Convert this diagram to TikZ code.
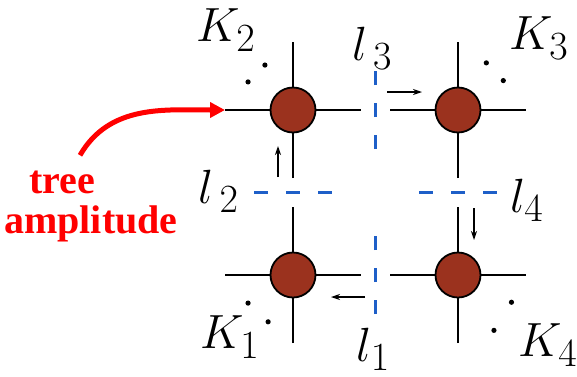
\documentclass[tikz,border=0pt]{standalone}
\usepackage{amsmath, amssymb}
\usepackage{fontspec}
\newfontfamily\annofont{Liberation Serif}
\usepackage{tikz}
\usetikzlibrary{positioning,calc,arrows.meta}
\definecolor{blobred}{RGB}{155,50,30}
\definecolor{cutblue}{RGB}{30,95,200}
\tikzset{
  leg/.style={line width=2pt, draw=black},
  blob/.style={circle, draw=black, line width=1.8pt, fill=blobred,
    minimum size=45pt, inner sep=0pt},
  cutline/.style={line width=2.5pt, draw=cutblue, dash pattern=on 14pt off 18pt},
  flow/.style={line width=1.2pt, draw=black, -{Stealth[length=9pt,width=6pt]}},
  pointer/.style={line width=5pt, draw=red, -{Triangle[length=15pt,width=15pt]}},
  lbl/.style={font=\fontsize{24.88}{26}\selectfont, scale=1.93, inner sep=0pt},
  anno/.style={font=\annofont\bfseries\fontsize{40}{40}\selectfont,
    text=red, inner sep=0pt, anchor=base}
}
\begin{document}
\begin{tikzpicture}[x=1pt, y=1pt, node distance=165pt]
  \useasboundingbox (-293,-101) rectangle (284,275);
  \coordinate (v1);
  \coordinate[above=of v1] (v2);
  \coordinate[right=of v2] (v3);
  \coordinate[right=of v1] (v4);
  \coordinate (m1) at ($(v1)!0.5!(v4)$);
  \coordinate (m2) at ($(v1)!0.5!(v2)$);
  \coordinate (m3) at ($(v2)!0.5!(v3)$);
  \coordinate (m4) at ($(v4)!0.5!(v3)$);
  \coordinate[left=68pt of v2] (w2);

  % external legs
  \draw[leg] ($(v1)+(-68,0)$) -- ++(136,0);
  \draw[leg] ($(v1)+(0,-68)$) -- ++(0,136);
  \draw[leg] (w2) -- ++(136,0);
  \draw[leg] ($(v2)+(0,-68)$) -- ++(0,136);
  \draw[leg] ($(v3)+(-68,0)$) -- ++(136,0);
  \draw[leg] ($(v3)+(0,-68)$) -- ++(0,136);
  \draw[leg] ($(v4)+(-68,0)$) -- ++(136,0);
  \draw[leg] ($(v4)+(0,-68)$) -- ++(0,136);

  % tree amplitudes
  \node[blob] (b1) at (v1) {};
  \node[blob] (b2) at (v2) {};
  \node[blob] (b3) at (v3) {};
  \node[blob] (b4) at (v4) {};

  % more legs
  \fill ($(v1)+(212:53)$) circle [radius=2.6];
  \fill ($(v1)+(242:53)$) circle [radius=2.6];
  \fill ($(v2)+(122:53)$) circle [radius=2.6];
  \fill ($(v2)+(148:53)$) circle [radius=2.6];
  \fill ($(v3)+(33:54)$) circle [radius=2.6];
  \fill ($(v3)+(59:55)$) circle [radius=2.6];
  \fill ($(v4)+(333:60)$) circle [radius=2.6];
  \fill ($(v4)+(303:66)$) circle [radius=2.6];

  % cuts
  \draw[cutline] ($(m1)+(0,-39)$) -- ++(0,78);
  \draw[cutline] ($(m3)+(0,-39)$) -- ++(0,78);
  \draw[cutline] ($(m2)+(-39,0)$) -- ++(78,0);
  \draw[cutline] ($(m4)+(-39,0)$) -- ++(78,0);

  % loop momenta
  \draw[flow] ($(v2)+(-15,-67)$) -- ++(0,31);
  \draw[flow] ($(v3)+(-71,18)$) -- ++(35,0);
  \draw[flow] ($(v4)+(16,67)$) -- ++(0,-32);
  \draw[flow] ($(v1)+(72,-22)$) -- ++(-34,0);

  \node[lbl] (k1) at ($(v1)+(-63,-62)$) {$K_1$};
  \node[lbl] (k2) at ($(v2)+(-67,80)$) {$K_2$};
  \node[lbl] (k3) at ($(v3)+(81,72)$) {$K_3$};
  \node[lbl] (k4) at ($(v4)+(90,-70)$) {$K_4$};
  \node[lbl] (l1) at ($(m1)+(-2,-74)$) {$l_1$};
  \node[lbl] (l2) at ($(m2)+(-74,1)$) {$l_{\,2}$};
  \node[lbl] (l3) at ($(m3)+(-3,62)$) {$l_{\,3}$};
  \node[lbl] (l4) at ($(m4)+(69,-8)$) {$l_4$};

  \node[anno] (amp) at (-202,42) {amplitude};
  \node[anno] (tree) at (-231,82) {tree};
  \draw[pointer] ([shift={(18,15)}]tree.north) to[out=60,in=180] (w2);
\end{tikzpicture}
\end{document}
